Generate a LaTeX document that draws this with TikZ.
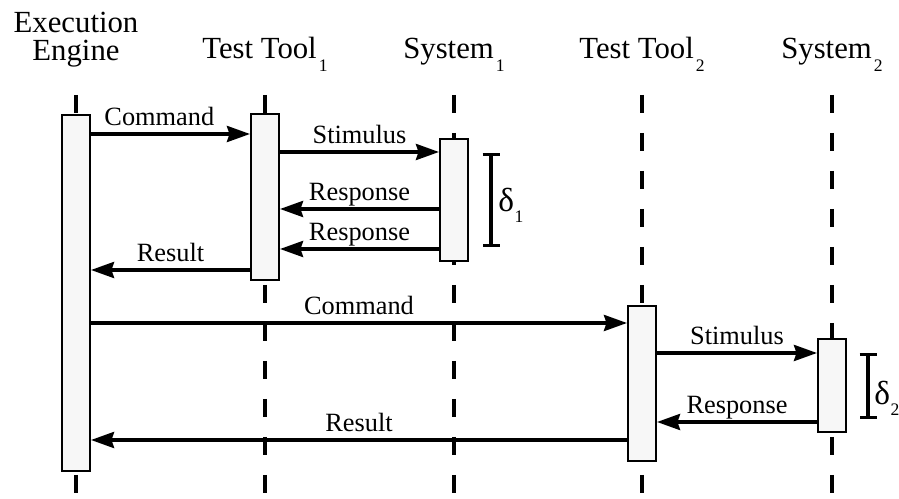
\documentclass[tikz,border=0pt]{standalone}
\usepackage{fontspec}
\setmainfont{Liberation Serif}
\usetikzlibrary{arrows.meta,fit}

\newcommand{\lowidx}[1]{\kern1.2pt\raisebox{-0.42em}{\fontsize{10}{10}\selectfont #1}}
\newcommand{\dlowidx}[1]{\kern0.3pt\raisebox{-0.3em}{\fontsize{10}{10}\selectfont #1}}

\tikzset{
  lifeline/.style={line width=0.065cm, dash pattern=on 0.36cm off 0.4cm},
  actbox/.style={draw, line width=0.04cm, fill=black!3, inner sep=0pt},
  msg/.style={line width=0.07cm, -{Stealth[length=0.46cm,width=0.32cm,inset=0.05cm]}},
  lbl/.style={font=\fontsize{15}{15}\selectfont, anchor=base, yshift=5pt, inner sep=0pt},
  hdr/.style={font=\fontsize{17.5}{16}\selectfont, inner sep=0pt},
  span/.style={line width=0.065cm, {Bar[width=0.34cm]}-{Bar[width=0.34cm]}},
  dlbl/.style={font=\fontsize{19}{19}\selectfont, anchor=base west, inner sep=0pt},
}

\begin{document}
\begin{tikzpicture}[x=0.02cm, y=-0.02cm]

\useasboundingbox (0,0) rectangle (899,499);

% headers
\node [hdr, align=center, anchor=north] (eeName) at (76,12) {Execution\\Engine};
\node [hdr, anchor=base] (tt1Name) at (265,59) {Test Tool\lowidx{1}};
\node [hdr, anchor=base] (sys1Name) at (454,59) {System\lowidx{1}};
\node [hdr, anchor=base] (tt2Name) at (642,59) {Test Tool\lowidx{2}};
\node [hdr, anchor=base] (sys2Name) at (832,59) {System\lowidx{2}};

% lifelines
\coordinate (eeTop) at (76,95);
\coordinate (eeBot) at (76,499);
\coordinate (tt1Top) at (265,95);
\coordinate (tt1Bot) at (265,499);
\coordinate (sys1Top) at (454,95);
\coordinate (sys1Bot) at (454,499);
\coordinate (tt2Top) at (642,95);
\coordinate (tt2Bot) at (642,499);
\coordinate (sys2Top) at (832,95);
\coordinate (sys2Bot) at (832,499);

\draw [lifeline] (eeTop) -- (eeBot);
\draw [lifeline] (tt1Top) -- (tt1Bot);
\draw [lifeline] (sys1Top) -- (sys1Bot);
\draw [lifeline] (tt2Top) -- (tt2Bot);
\draw [lifeline] (sys2Top) -- (sys2Bot);

% activations
\node [actbox, fit={(62,115) (90,471)}] (ee) {};
\node [actbox, fit={(251,114) (279,280)}] (tt1) {};
\node [actbox, fit={(440,139) (468,261)}] (sys1) {};
\node [actbox, fit={(628,306) (656,461)}] (tt2) {};
\node [actbox, fit={(818,339) (846,432)}] (sys2) {};

% first round
\draw [msg] (ee.east |- 0,134) -- node [lbl, pos=.43] {Command} (tt1.west |- 0,134);
\draw [msg] (tt1.east |- 0,152) -- node [lbl] {Stimulus} (sys1.west |- 0,152);
\draw [msg] (sys1.west |- 0,209) -- node [lbl] {Response} (tt1.east |- 0,209);
\draw [msg] (sys1.west |- 0,249) -- node [lbl] {Response} (tt1.east |- 0,249);
\draw [msg] (tt1.west |- 0,270) -- node [lbl] {Result} (ee.east |- 0,270);

% second round
\draw [msg] (ee.east |- 0,323) -- node [lbl] {Command} (tt2.west |- 0,323);
\draw [msg] (tt2.east |- 0,353) -- node [lbl] {Stimulus} (sys2.west |- 0,353);
\draw [msg] (sys2.west |- 0,422) -- node [lbl] {Response} (tt2.east |- 0,422);
\draw [msg] (tt2.west |- 0,440) -- node [lbl] {Result} (ee.east |- 0,440);

% delays
\coordinate (d1Top) at (491,153);
\coordinate (d1Bot) at (491,247);
\coordinate (d2Top) at (868,353);
\coordinate (d2Bot) at (868,419);

\draw [span] (d1Top) -- (d1Bot);
\draw [span] (d2Top) -- (d2Bot);

\node [dlbl] (d1) at (498,212) {δ\dlowidx{1}};
\node [dlbl] (d2) at (874,405) {δ\dlowidx{2}};

\end{tikzpicture}
\end{document}
